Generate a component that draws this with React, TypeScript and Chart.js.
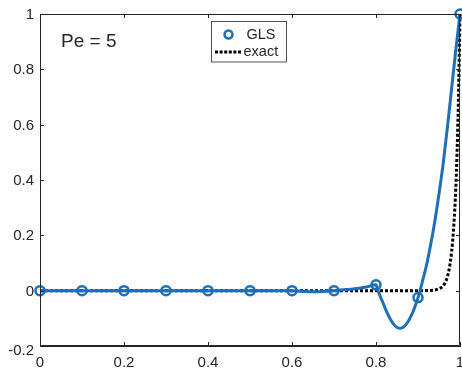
import React, { useEffect, useRef } from 'react';
import { Chart, registerables } from 'chart.js';

Chart.register(...registerables);

// ---- data ----
const nodeX = [0, 0.1, 0.2, 0.3, 0.4, 0.5, 0.6, 0.7, 0.8, 0.9, 1.0];
const nodeY = [0, 0, 0, 0, 0, 0, 0, 0, 0.021, -0.025, 1.0];

const glsX = [0, 0.1, 0.2, 0.3, 0.4, 0.5, 0.6, 0.62, 0.65, 0.68, 0.7, 0.73, 0.76, 0.78, 0.8,
  0.805, 0.81, 0.817, 0.825, 0.835, 0.845, 0.855, 0.865, 0.875, 0.885, 0.895, 0.9,
  0.905, 0.91, 0.92, 0.93, 0.94, 0.95, 0.96, 0.97, 0.98, 0.99, 1.0];
const glsY = [0, 0, 0, 0, 0, 0, 0, -0.002, -0.004, -0.002, 0, 0.004, 0.009, 0.014, 0.021,
  0.0, -0.02, -0.045, -0.075, -0.105, -0.127, -0.136, -0.132, -0.115, -0.087, -0.048, -0.025,
  0.0, 0.03, 0.09, 0.165, 0.25, 0.35, 0.46, 0.59, 0.73, 0.87, 1.0];

const exactX = [0, 0.6, 0.9, 0.93, 0.95, 0.96, 0.965, 0.97, 0.975, 0.98, 0.985, 0.99, 0.993, 0.996, 1.0];
const exactY = [0, 0, 0, 0.001, 0.007, 0.018, 0.03, 0.05, 0.085, 0.14, 0.23, 0.37, 0.5, 0.67, 1.0];

const xTicks = [0, 0.2, 0.4, 0.6, 0.8, 1];
const yTicks = [-0.2, 0, 0.2, 0.4, 0.6, 0.8, 1];
const legendLabels = ['GLS', 'exact'];
const annotationText = 'Pe = 5';

const BLUE = '#1f6fb8';
const INK = '#262626';
const FONT = '"Liberation Sans", Arial, Helvetica, sans-serif';

const fmt = (v: number) => String(Number(v.toFixed(2)));

const framePlugin = {
  id: 'frame',
  afterDraw(chart: any) {
    const { ctx, chartArea: a, scales } = chart;
    const xs = scales.x;
    const ys = scales.y;
    ctx.save();
    ctx.strokeStyle = INK;
    ctx.lineWidth = 1;
    ctx.beginPath();
    ctx.rect(Math.round(a.left) + 0.5, Math.round(a.top) + 0.5, Math.round(a.right - a.left) - 1, Math.round(a.bottom - a.top) - 1);
    ctx.stroke();
    const tl = 4;
    ctx.beginPath();
    xTicks.forEach((v) => {
      const px = Math.round(xs.getPixelForValue(v)) + 0.5;
      ctx.moveTo(px, a.bottom);
      ctx.lineTo(px, a.bottom - tl);
      ctx.moveTo(px, a.top);
      ctx.lineTo(px, a.top + tl);
    });
    yTicks.forEach((v) => {
      const py = Math.round(ys.getPixelForValue(v)) + 0.5;
      ctx.moveTo(a.left, py);
      ctx.lineTo(a.left + tl, py);
      ctx.moveTo(a.right, py);
      ctx.lineTo(a.right - tl, py);
    });
    ctx.stroke();

    // tick labels
    ctx.fillStyle = INK;
    ctx.font = `15px ${FONT}`;
    ctx.textBaseline = 'middle';
    ctx.textAlign = 'center';
    xTicks.forEach((v) => {
      ctx.fillText(fmt(v), xs.getPixelForValue(v), a.bottom + 17);
    });
    ctx.textAlign = 'right';
    yTicks.forEach((v, i) => {
      const py = ys.getPixelForValue(v) + (i === 0 ? 4 : 0) + 1;
      ctx.fillText(fmt(v), a.left - 6, py);
    });

    // annotation
    ctx.font = `19px ${FONT}`;
    ctx.textAlign = 'left';
    ctx.textBaseline = 'alphabetic';
    ctx.fillText(annotationText, 61, 47);

    // legend
    ctx.fillStyle = '#ffffff';
    ctx.fillRect(211.5, 21.5, 75, 40.5);
    ctx.strokeStyle = INK;
    ctx.lineWidth = 0.8;
    ctx.strokeRect(211.5, 21.5, 75, 40.5);

    ctx.strokeStyle = BLUE;
    ctx.lineWidth = 2.5;
    ctx.beginPath();
    ctx.arc(228.5, 34.5, 4, 0, Math.PI * 2);
    ctx.stroke();

    ctx.strokeStyle = '#000000';
    ctx.lineWidth = 3;
    ctx.setLineDash([3, 1.6]);
    ctx.beginPath();
    ctx.moveTo(215, 52);
    ctx.lineTo(242, 52);
    ctx.stroke();
    ctx.setLineDash([]);

    ctx.fillStyle = INK;
    ctx.font = `14.5px ${FONT}`;
    ctx.textBaseline = 'middle';
    ctx.fillText(legendLabels[0], 246.5, 35);
    ctx.fillText(legendLabels[1], 243.5, 52);
    ctx.restore();
  },
};

export default function App() {
  const ref = useRef<HTMLCanvasElement | null>(null);
  useEffect(() => {
    if (!ref.current) return;
    const chart = new Chart(ref.current, {
      type: 'line',
      data: {
        datasets: [
          {
            label: 'GLS nodes',
            data: nodeX.map((x, i) => ({ x, y: nodeY[i] })),
            showLine: false,
            pointRadius: 4.5,
            pointBorderWidth: 2.5,
            pointBorderColor: BLUE,
            pointBackgroundColor: 'rgba(0,0,0,0)',
            pointStyle: 'circle',
            clip: false,
          } as any,
          {
            label: legendLabels[0],
            data: glsX.map((x, i) => ({ x, y: glsY[i] })),
            borderColor: BLUE,
            borderWidth: 3,
            pointRadius: 0,
            cubicInterpolationMode: 'monotone',
            fill: false,
            clip: false,
          } as any,
          {
            label: legendLabels[1],
            data: exactX.map((x, i) => ({ x, y: exactY[i] })),
            borderColor: '#000000',
            borderWidth: 3,
            borderDash: [3, 2],
            pointRadius: 0,
            cubicInterpolationMode: 'monotone',
            fill: false,
            clip: false,
          } as any,
        ],
      },
      options: {
        animation: false,
        responsive: false,
        devicePixelRatio: 1,
        layout: { autoPadding: false, padding: { top: 14, right: 2, left: 0, bottom: 0 } },
        plugins: { legend: { display: false }, tooltip: { enabled: false } },
        scales: {
          x: {
            type: 'linear',
            min: 0,
            max: 1,
            offset: false,
            afterBuildTicks: (s: any) => { s.ticks = xTicks.map((v) => ({ value: v })); },
            afterFit: (s: any) => { s.height = 26; s.paddingLeft = 0; s.paddingRight = 0; },
            grid: { display: false },
            border: { display: true, color: INK, width: 1 },
            ticks: { display: false },
          },
          y: {
            type: 'linear',
            min: -0.2,
            max: 1,
            afterBuildTicks: (s: any) => { s.ticks = yTicks.map((v) => ({ value: v })); },
            afterFit: (s: any) => { s.width = 40; s.paddingTop = 0; s.paddingBottom = 0; },
            grid: { display: false },
            border: { display: true, color: INK, width: 1 },
            ticks: { display: false },
          },
        },
      },
      plugins: [framePlugin],
    });
    return () => chart.destroy();
  }, []);
  return (
    <div style={{ position: 'fixed', left: 0, top: 0, width: 462, height: 372, background: '#ffffff' }}>
      <canvas ref={ref} width={462} height={372} style={{ width: 462, height: 372, display: 'block' }} />
    </div>
  );
}
